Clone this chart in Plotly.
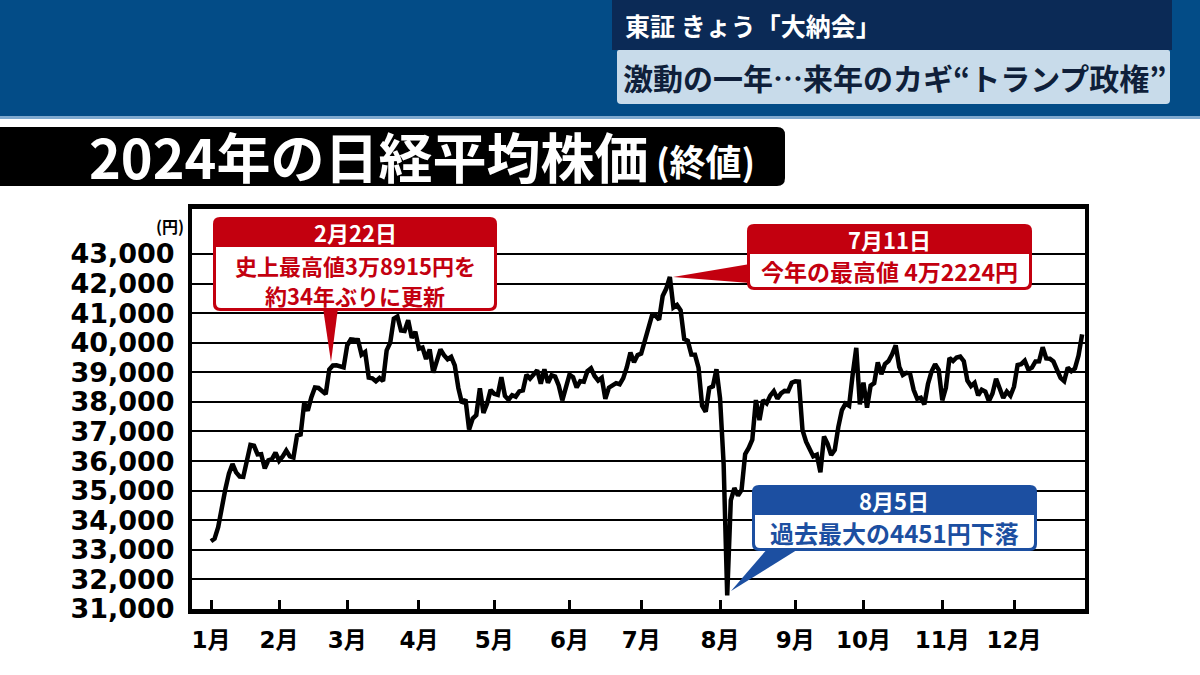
import plotly.graph_objects as go

# ---------------- data (Nikkei 225 closes, trading days of 2024) ----------------
month_labels = ["1月", "2月", "3月", "4月", "5月", "6月", "7月", "8月", "9月", "10月", "11月", "12月"]
jan = [33288, 33377, 33763, 34441, 35049, 35577, 35901, 35619, 35477, 35466, 35963, 36546, 36517, 36226, 36236, 35751, 36026, 36065, 36286]
feb = [36011, 36158, 36354, 36160, 36119, 36863, 36897, 37963, 37703, 38157, 38487, 38470, 38363, 38262, 39098, 39233, 39239, 39208, 39166]
mar = [39910, 40109, 40097, 40090, 39598, 39688, 38820, 38797, 38695, 38807, 38707, 39740, 40003, 40815, 40888, 40414, 40398, 40762, 40168, 40369]
apr = [39803, 39838, 39451, 39773, 38992, 39347, 39773, 39581, 39442, 39523, 39232, 38471, 37961, 38079, 37068, 37438, 37552, 38460, 37628, 37934, 38405]
may = [38274, 38236, 38835, 38202, 38073, 38229, 38179, 38356, 38385, 38920, 38787, 38946, 39069, 38617, 39103, 38646, 38900, 38855, 38556, 38054, 38487]
jun = [38923, 38837, 38490, 38703, 38683, 39038, 39134, 38876, 38720, 38814, 38102, 38482, 38570, 38633, 38596, 38804, 39173, 39667, 39341, 39583]
jul = [39631, 40074, 40580, 40913, 40912, 40780, 41580, 41831, 42224, 41190, 41275, 41097, 40126, 40063, 39599, 39594, 39154, 37869, 37667, 38468, 38525, 39101]
aug = [38126, 35909, 31458, 34675, 35089, 34831, 35025, 36232, 36442, 36726, 38062, 37388, 38062, 37951, 38211, 38364, 38110, 38288, 38371, 38362, 38647]
sep = [38700, 38686, 37047, 36657, 36391, 36159, 36215, 35619, 36833, 36581, 36203, 36380, 37155, 37723, 37940, 37870, 38925, 39829, 37919]
oct_ = [38651, 37808, 38552, 38635, 39332, 38937, 39277, 39380, 39605, 39910, 39180, 38911, 38981, 38954, 38411, 38104, 38143, 37913, 38605, 39027, 39277, 39081]
nov = [38053, 38474, 39480, 39381, 39500, 39533, 39376, 38721, 38535, 38642, 38220, 38414, 38352, 38026, 38283, 38780, 38442, 38134, 38349, 38208]
dec = [38513, 39248, 39276, 39395, 39091, 39160, 39367, 39372, 39849, 39470, 39457, 39364, 39081, 38813, 38701, 39161, 39036, 39130, 39568, 40281]

y_ticks = [31000, 32000, 33000, 34000, 35000, 36000, 37000, 38000, 39000, 40000, 41000, 42000, 43000]
y_tick_text = ["31,000", "32,000", "33,000", "34,000", "35,000", "36,000", "37,000", "38,000", "39,000", "40,000", "41,000", "42,000", "43,000"]

months_data = [jan, feb, mar, apr, may, jun, jul, aug, sep, oct_, nov, dec]
values = []
month_starts = []
for m in months_data:
    month_starts.append(len(values))
    values.extend(m)
idx = list(range(len(values)))

# ---------------- helpers (pixel -> paper) ----------------
W, H = 1200, 675


def fx(x):
    return x / W


def fy(y):
    return 1 - y / H


def pt(x, y):
    return f"{fx(x):.5f},{fy(y):.5f}"


def rrect(x0, y0, x1, y1, r=(6, 6, 6, 6)):
    tl, tr, br, bl = r
    p = f"M{pt(x0 + tl, y0)} L{pt(x1 - tr, y0)} Q{pt(x1, y0)} {pt(x1, y0 + tr)} "
    p += f"L{pt(x1, y1 - br)} Q{pt(x1, y1)} {pt(x1 - br, y1)} "
    p += f"L{pt(x0 + bl, y1)} Q{pt(x0, y1)} {pt(x0, y1 - bl)} "
    p += f"L{pt(x0, y0 + tl)} Q{pt(x0, y0)} {pt(x0 + tl, y0)} Z"
    return p


def tri(a, b, c):
    return f"M{pt(*a)} L{pt(*b)} L{pt(*c)} Z"


shapes = []


def add_path(p, color, layer="above"):
    shapes.append(dict(type="path", path=p, xref="paper", yref="paper",
                       fillcolor=color, line=dict(width=0), layer=layer))


def add_rect(x0, y0, x1, y1, color, layer="above"):
    shapes.append(dict(type="rect", xref="paper", yref="paper",
                       x0=fx(x0), x1=fx(x1), y0=fy(y1), y1=fy(y0),
                       fillcolor=color, line=dict(width=0), layer=layer))


# top banner
add_rect(0, 0, 1200, 116, "#034c87", layer="below")
add_rect(0, 116, 1200, 119, "#7fa9cf", layer="below")
add_rect(612, 0, 1172, 50, "#0b2a56", layer="below")
add_path(rrect(617, 50, 1170, 104, (2, 2, 4, 4)), "#c8dbea", layer="below")
# black title bar
add_path(rrect(-10, 127, 785, 186, (0, 8, 8, 0)), "#000000", layer="below")

RED = "#c3000f"
BLUE = "#1c4fa1"
# callout 1 (2/22)
add_path(rrect(213, 217, 497, 311, (7, 7, 7, 7)), RED)
add_path(rrect(216, 247, 494, 308, (0, 0, 5, 5)), "#ffffff")
add_path(tri((323, 308), (338, 308), (331, 362)), RED)
# callout 2 (7/11)
add_path(rrect(747, 224, 1032, 290, (7, 7, 7, 7)), RED)
add_path(rrect(750, 254, 1029, 287, (0, 0, 5, 5)), "#ffffff")
add_path(tri((750, 264), (750, 283), (673, 277)), RED)
# callout 3 (8/5)
add_path(rrect(752, 485, 1037, 551, (7, 7, 7, 7)), BLUE)
add_path(rrect(755, 515, 1034, 548, (0, 0, 5, 5)), "#ffffff")
add_path(tri((768, 548), (800, 548), (731, 591)), BLUE)

JP = "Noto Sans CJK JP"
NUM = "DejaVu Sans, Noto Sans CJK JP"

annotations = []


def add_text(x, y, text, size, color, family=JP, xanchor="center", weight="bold"):
    annotations.append(dict(x=fx(x), y=fy(y), xref="paper", yref="paper", text=text,
                            showarrow=False, xanchor=xanchor, yanchor="middle",
                            borderpad=0,
                            font=dict(family=family, size=size, color=color, weight=weight)))


add_text(624, 25, "東証 きょう「大納会」", 25, "#ffffff", xanchor="left")
add_text(622, 77, "激動の一年…来年のカギ“トランプ政権”", 30, "#0f1f3a", xanchor="left")
add_text(88, 156, "2024年の日経平均株価", 54, "#ffffff", xanchor="left")
add_text(655, 160, "(終値)", 36, "#ffffff", xanchor="left")

add_text(355, 232, "2月22日", 22, "#ffffff")
add_text(355, 265, "史上最高値3万8915円を", 22, RED)
add_text(355, 295, "約34年ぶりに更新", 22, RED)
add_text(889, 239, "7月11日", 22, "#ffffff")
add_text(889, 271, "今年の最高値 4万2224円", 23, RED)
add_text(894, 500, "8月5日", 22, "#ffffff")
add_text(894, 532, "過去最大の4451円下落", 24, BLUE)
add_text(170, 226, "(円)", 16, "#000000")

fig = go.Figure()
fig.add_trace(go.Scatter(x=idx, y=values, mode="lines",
                         line=dict(color="#000000", width=4.5),
                         hoverinfo="skip", showlegend=False))

scale = (1014 - 211) / month_starts[11]
x_left = -(211 - 192) / scale
x_right = (1085 - 211) / scale

fig.update_layout(
    width=W, height=H,
    margin=dict(l=0, r=0, t=0, b=0),
    paper_bgcolor="#ffffff", plot_bgcolor="#ffffff",
    showlegend=False,
    shapes=shapes,
    annotations=annotations,
    xaxis=dict(domain=[192 / W, 1085 / W], range=[x_left, x_right],
               tickvals=month_starts, ticktext=month_labels,
               ticks="inside", ticklen=9, tickwidth=3, tickcolor="#000000",
               showgrid=False, zeroline=False, automargin=False,
               showline=True, linewidth=5, linecolor="#000000", mirror=True,
               tickfont=dict(family=NUM, size=23, color="#000000", weight="bold"),
               ticklabelstandoff=6, fixedrange=True),
    yaxis=dict(domain=[1 - 609 / H, 1 - 209 / H], range=[31000, 44520],
               tickvals=y_ticks, ticktext=y_tick_text,
               showgrid=True, gridcolor="#000000", gridwidth=2,
               zeroline=False, ticks="", automargin=False,
               showline=True, linewidth=4, linecolor="#000000", mirror=True,
               tickfont=dict(family=NUM, size=27, color="#000000", weight="bold"),
               ticklabelstandoff=8, fixedrange=True),
)

fig.write_html("out.html", config={"displayModeBar": False},
               post_script="document.body.style.margin='0';document.body.style.overflow='hidden';")
